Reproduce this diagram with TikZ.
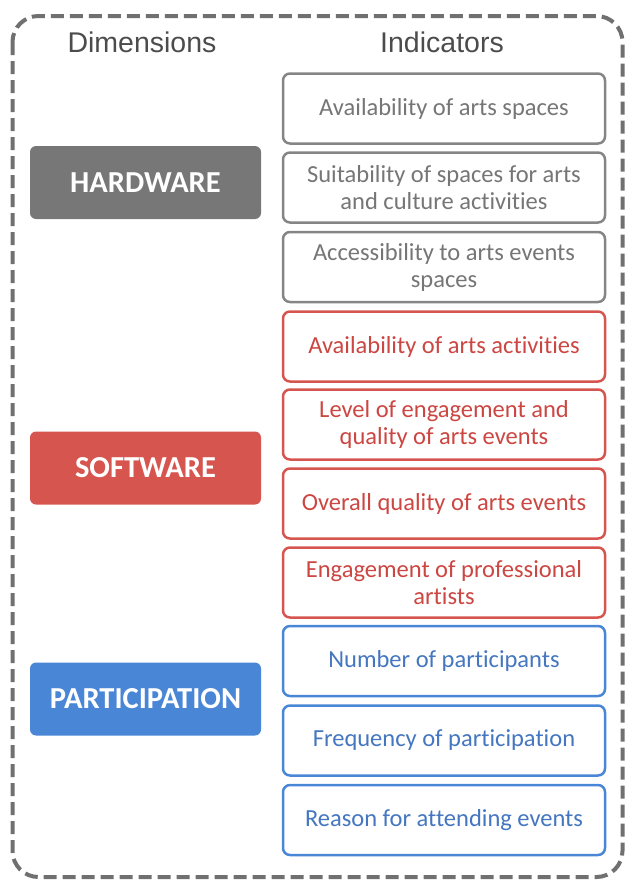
\documentclass[tikz,border=0pt]{standalone}
\usepackage{fontspec}
\setmainfont[Ligatures={NoCommon}]{Carlito}
\newfontfamily\headfont{Liberation Sans}
\definecolor{hwgray}{HTML}{777777}
\definecolor{swred}{HTML}{D6554F}
\definecolor{ptblue}{HTML}{4A86D6}
\definecolor{hwtext}{HTML}{767676}
\definecolor{swtext}{HTML}{CC4642}
\definecolor{pttext}{HTML}{4577C0}
\definecolor{framegray}{HTML}{707070}
\tikzset{
    dimbox/.style={rounded corners=6pt,minimum width=231pt,minimum height=73pt,
        text=white,font=\fontsize{30.5}{36}\selectfont\bfseries,inner sep=0pt},
    indbox/.style={draw,line width=2.5pt,rounded corners=7pt,fill=white,
        minimum width=322pt,minimum height=70pt,align=center,inner sep=0pt,
        font=\fontsize{24.5}{27}\selectfont},
    hwind/.style={indbox,draw=hwgray!90,text=hwtext},
    swind/.style={indbox,draw=swred,text=swtext},
    ptind/.style={indbox,draw=ptblue,text=pttext},
    header/.style={font=\headfont\fontsize{28.5}{32}\selectfont,text=black!70}
}
\begin{document}
\begin{tikzpicture}[x=1pt,y=-1pt]
    \useasboundingbox (0,0) rectangle (627,881);
    \draw[framegray,line width=4pt,dash pattern=on 13pt off 6pt,rounded corners=26pt]
        (12.5,16) rectangle (622.5,877);%外框
    \node[header] (dims) at (142,42) {Dimensions};
    \node[header] (inds) at (442,42) {Indicators};
    % 维度
    \node[dimbox,fill=hwgray] (hardware) at (145.5,182.5) {HARDWARE};
    \node[dimbox,fill=swred] (software) at (145.5,468) {SOFTWARE};
    \node[dimbox,fill=ptblue] (participation) at (145.5,699) {PARTICIPATION};
    % 指标
    \node[hwind] (availspaces) at (444,108.5) {Availability of arts spaces};
    \node[hwind] (suitability) at (444,187.5) {Suitability of spaces for arts\\and culture activities};
    \node[hwind] (accessibility) at (444,267) {Accessibility to arts events\\spaces};
    \node[swind] (availactivities) at (444,346.5) {Availability of arts activities};
    \node[swind] (engagement) at (444,424.5) {Level of engagement and\\quality of arts events};
    \node[swind] (quality) at (444,503.5) {Overall quality of arts events};
    \node[swind] (artists) at (444,582.5) {Engagement of professional\\artists};
    \node[ptind] (participants) at (444,661) {Number of participants};
    \node[ptind] (frequency) at (444,740.5) {Frequency of participation};
    \node[ptind] (reason) at (444,820) {Reason for attending events};
\end{tikzpicture}
\end{document}
